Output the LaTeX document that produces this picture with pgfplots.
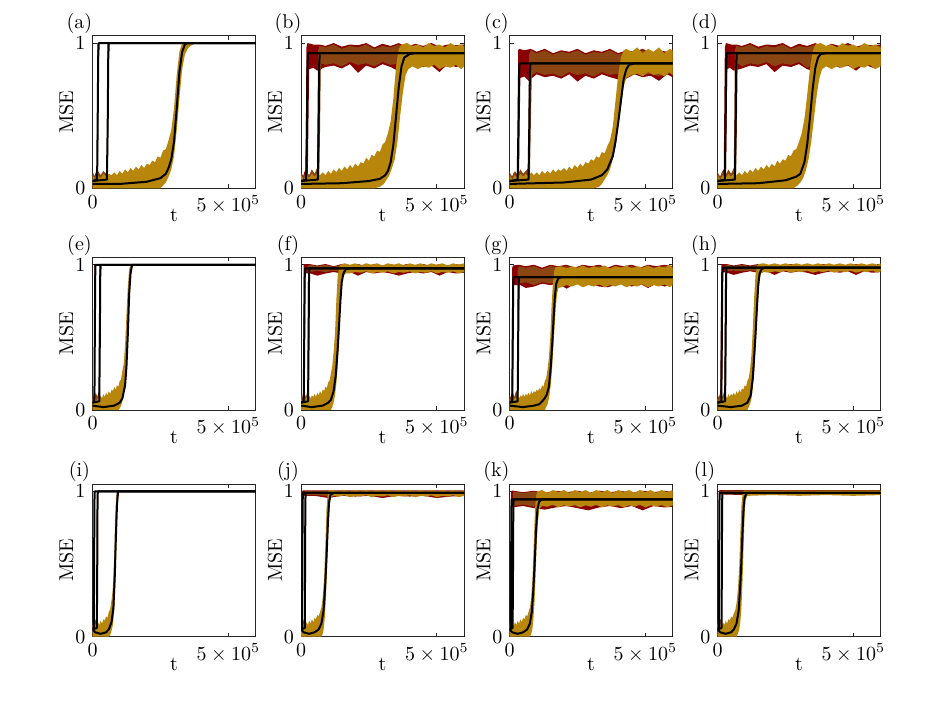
\documentclass[border=0pt]{standalone}
\usepackage{pgfplots}
\pgfplotsset{compat=1.18}
\definecolor{cred}{RGB}{139,0,0}
\definecolor{cbrown}{RGB}{139,69,19}
\definecolor{cgold}{RGB}{184,134,11}
% t in units of 1e4, MSE in percent
\pgfplotsset{
  panel/.style={
    anchor=south west, width=81.5pt, height=76.25pt, scale only axis,
    xmin=0, xmax=60, ymin=0, ymax=105,
    xtick={0,50}, xticklabels={$0$,$5\times10^{5}$},
    ytick={0,100}, yticklabels={$0$,$1$},
    tick align=inside, major tick length=2pt,
    axis line style={black!85, line width=0.4pt},
    every tick/.style={black!85, line width=0.4pt},
    xlabel={t}, ylabel={MSE},
    xlabel style={at={(axis description cs:0.5,-0.18)}, anchor=center},
    ylabel style={at={(axis description cs:-0.16,0.5)}, anchor=center},
    title style={at={(axis description cs:-0.08,1.08)}, anchor=center, yshift=-6pt},
  },
  rb/.style={fill=cred, draw=none},
  bb/.style={fill=cbrown, draw=none},
  gb/.style={fill=cgold, draw=none},
  mn/.style={black, line width=1pt, line join=round},
}
\begin{document}
\begin{tikzpicture}
\path[use as bounding box] (0,0) rectangle (463pt,353.5pt);

% ---------- (a)
\begin{axis}[panel, at={(46.25pt,259.35pt)}, title={(a)}]
\addplot[rb] coordinates {(0,9)(0.6,7)(1.2,11)(1.6,12)(1.8,100)(60,100)(2.3,100)(2.1,40)(1.9,0)(0,0)};
\addplot[bb] coordinates {(0,11)(1,8)(2,12)(3,9)(4,12)(5,10)(5.3,13)(5.5,100)(60,100)(6.0,100)(5.8,40)(5.6,0)(0,0)};
\addplot[gb] coordinates {(0,9)(1,6)(2,9)(3,7)(4,10)(5,8)(6,10)(7,9)(8,11)(9,9)(10,12)(11,10)(12,13)(13,11)(14,14)(15,12)(16,15)(17,13)(18,16)(19,14)(20,17)(21,16)(22,19)(23,18)(24,22)(25,21)(26,26)(27,27)(28,33)(29,40)(30,55)(31,78)(32,94)(33,100)(60,100)
 (60,100)(38,100)(36,98)(35,96)(34,92)(33,82)(32,62)(31,40)(30,22)(29,13)(28,8)(27,4)(26,2)(25,0)(0,0)};
\addplot[mn] coordinates {(0,5)(1.7,6)(1.9,45)(2.1,90)(2.3,100)(60,100)};
\addplot[mn] coordinates {(0,5)(5.3,6)(5.6,45)(5.8,90)(6.0,100)(60,100)};
\addplot[mn] coordinates {(0,3)(10,3)(20,4.5)(25,7)(27,10)(28,14)(29,20)(30,32)(31,55)(32,80)(33,94)(34,99)(35,100)(60,100)};
\end{axis}

% ---------- (b)
\begin{axis}[panel, at={(150.5pt,259.35pt)}, title={(b)}]
\addplot[rb] coordinates {(0,9)(0.6,7)(1.2,11)(1.7,13)(2.0,97)(2.4,100)(4.5,99)(6.8,99)(9,98)(12,100)(15,97.5)(18,99)(21,98.5)(24,100)(27,97)(30,99.5)(33,98)(36,100)(39,97)(42,99.5)(45,98)(48,100)(51,97.5)(54,99)(57,98.5)(60,99)
 (60,84.5)(57,83.5)(54,85.5)(51,80)(48,84.5)(45,83.5)(42,85.5)(39,82.5)(36,80.5)(33,83.5)(30,85.5)(27,82.5)(24,84.5)(21,79.5)(18,85.5)(15,82.5)(12,84.5)(9,83.5)(6,81)(4.5,83)(3.0,82)(2.7,40)(2.5,5)(0,0)};
\addplot[bb] coordinates {(0,11)(1,8)(2,12)(3,9)(4,13)(5,10)(5.9,14)(6.3,95)(6.8,98)(9,97)(12,99)(15,96)(18,98)(21,97)(24,99)(27,96)(30,98)(33,97)(36,99)(39,96)(42,98)(45,97)(48,99)(51,96)(54,98)(57,97)(60,98)
 (60,86)(57,85)(54,87)(51,84)(48,86)(45,85)(42,87)(39,84)(36,86)(33,85)(30,87)(27,84)(24,86)(21,85)(18,87)(15,84)(12,86)(9,85)(7.3,86)(7.0,40)(6.7,5)(0,0)};
\addplot[gb] coordinates {(0,9)(1,6)(2,9)(3,7)(4,10)(5,8)(6,10)(7,9)(8,11)(9,9)(10,12)(11,10)(12,13)(13,11)(14,14)(15,12)(16,15)(17,13)(18,16)(19,14)(20,17)(21,15)(22,18)(23,17)(24,21)(25,19)(26,23)(27,22)(28,26)(29,25)(30,30)(31,32)(32,38)(33,46)(34,62)(35,84)(36,96)(37,99)(39,100)(41,98)(43,99)(45,97)(47,100)(49,98)(51,99)(53,97)(55,100)(57,98)(59,99)(60,98)
 (60,84)(59,82)(57,85)(55,83)(53,84)(51,82)(49,85)(47,83)(45,84)(43,82)(41,84)(39.5,82)(38.5,78)(37.5,66)(36.5,50)(35.5,32)(34.5,20)(33.5,14)(32.5,9)(31.5,6)(30.5,3)(29,1)(27,0)(0,0)};
\addplot[mn] coordinates {(0,5)(1.9,6)(2.2,45)(2.4,85)(2.6,93)(60,93)};
\addplot[mn] coordinates {(0,5)(6.2,6)(6.5,45)(6.7,85)(6.9,93)(60,93)};
\addplot[mn] coordinates {(0,3)(15,3.5)(25,5)(29,6.5)(31,9)(32,12)(33,18)(34,30)(35,50)(36,70)(37,84)(38,90)(40,92.5)(42,93)(60,93)};
\end{axis}

% ---------- (c)
\begin{axis}[panel, at={(254.75pt,259.35pt)}, title={(c)}]
\addplot[rb] coordinates {(0,9)(0.8,7)(1.6,11)(2.4,8)(3.0,13)(3.2,95)(3.6,96)(5.5,95)(7.8,96)(10,94)(13,96)(16,93)(19,95)(22,94)(25,96)(28,93)(31,95)(34,94)(37,96)(40,93)(43,95)(46,94)(49,96)(52,93)(55,95)(58,94)(60,95)
 (60,76.5)(58,78.5)(55,74)(52,77.5)(49,76.5)(46,78.5)(43,75.5)(40,75)(37,76.5)(34,78.5)(31,75.5)(28,77.5)(25,73.5)(22,78.5)(19,75.5)(16,77.5)(13,76.5)(10,78.5)(7,74)(5.5,77)(4.0,76)(3.7,40)(3.5,5)(0,0)};
\addplot[bb] coordinates {(0,11)(1,8)(2,12)(3,9)(4,13)(5,10)(6,12)(6.9,14)(7.2,92)(7.8,95)(10,93)(13,95)(16,92)(19,94)(22,93)(25,95)(28,92)(31,94)(34,93)(37,95)(40,92)(43,94)(46,93)(49,95)(52,92)(55,94)(58,93)(60,94)
 (60,78)(58,80)(55,77)(52,79)(49,78)(46,80)(43,77)(40,79)(37,78)(34,80)(31,77)(28,79)(25,78)(22,80)(19,77)(16,79)(13,78)(10,80)(8.2,78)(7.8,40)(7.5,5)(0,0)};
\addplot[gb] coordinates {(0,9)(1,6)(2,9)(3,7)(4,10)(5,8)(6,10)(7,8)(8,11)(9,9)(10,11)(11,9)(12,12)(13,10)(14,12)(15,10)(16,13)(17,11)(18,13)(19,12)(20,14)(21,12)(22,15)(23,13)(24,16)(25,14)(26,17)(27,15)(28,18)(29,17)(30,20)(31,19)(32,22)(33,21)(34,25)(35,24)(36,29)(37,33)(38,42)(39,60)(40,78)(41,90)(42,95)(43,96)(45,94)(47,97)(49,93)(51,96)(53,94)(55,97)(57,93)(59,96)(60,95)
 (60,78)(59,80)(57,77)(55,79)(53,78)(51,80)(49,77)(47,79)(45,78)(44,77)(43,76)(42,70)(41,56)(40,42)(39,28)(38,20)(37,13)(36,9)(35,6)(34,3)(33,1)(31,0)(0,0)};
\addplot[mn] coordinates {(0,5)(3.0,6)(3.3,45)(3.5,80)(3.7,86)(60,86)};
\addplot[mn] coordinates {(0,5)(7.0,6)(7.3,45)(7.5,80)(7.7,86)(60,86)};
\addplot[mn] coordinates {(0,3)(20,4)(30,6)(34,9)(36,13)(38,22)(39,32)(40,45)(41,60)(42,75)(43,82)(44,85)(46,86)(60,86)};
\end{axis}

% ---------- (d)
\begin{axis}[panel, at={(358.75pt,259.35pt)}, title={(d)}]
\addplot[rb] coordinates {(0,9)(0.8,7)(1.6,11)(2.3,13)(2.7,97)(3.1,100)(5,99)(6.9,99)(9,98)(12,100)(15,97.5)(18,99)(21,98.5)(24,100)(27,97)(30,99.5)(33,98)(36,100)(39,97)(42,99.5)(45,98)(48,100)(51,97.5)(54,99)(57,98.5)(60,99)
 (60,84.5)(57,83)(54,85.5)(51,81)(48,84.5)(45,83)(42,85.5)(39,83.5)(36,80.5)(33,82)(30,85.5)(27,83.5)(24,84.5)(21,80)(18,85.5)(15,83.5)(12,84.5)(9,82.5)(6,81)(4.5,83)(3.6,82)(3.3,40)(3.1,5)(0,0)};
\addplot[bb] coordinates {(0,11)(1,8)(2,12)(3,9)(4,13)(5,10)(6.0,14)(6.4,95)(6.9,98)(9,97)(12,99)(15,96)(18,98)(21,97)(24,99)(27,96)(30,98)(33,97)(36,99)(39,96)(42,98)(45,97)(48,99)(51,96)(54,98)(57,97)(60,98)
 (60,86)(57,84)(54,87)(51,85)(48,86)(45,84)(42,87)(39,85)(36,86)(33,83)(30,87)(27,85)(24,86)(21,84)(18,87)(15,85)(12,86)(9,84)(7.4,86)(7.1,40)(6.8,5)(0,0)};
\addplot[gb] coordinates {(0,9)(1,6)(2,9)(3,7)(4,10)(5,8)(6,10)(7,9)(8,11)(9,9)(10,12)(11,10)(12,13)(13,11)(14,14)(15,12)(16,15)(17,13)(18,16)(19,14)(20,17)(21,15)(22,19)(23,17)(24,20)(25,19)(26,23)(27,22)(28,26)(29,27)(30,32)(31,38)(32,48)(33,64)(34,82)(35,94)(36,99)(38,100)(40,98)(42,99)(44,97)(46,100)(48,98)(50,99)(52,97)(54,100)(56,98)(58,99)(60,97)
 (60,84)(58,82)(56,85)(54,83)(52,84)(50,82)(48,85)(46,83)(44,84)(42,82)(40,84)(38.5,82)(37.5,76)(36.5,64)(35.5,48)(34.5,32)(33.5,20)(32.5,12)(31.5,7)(30.5,4)(29.5,2)(28,0)(0,0)};
\addplot[mn] coordinates {(0,5)(2.7,6)(3.0,45)(3.2,85)(3.4,93)(60,93)};
\addplot[mn] coordinates {(0,5)(6.4,6)(6.7,45)(6.9,85)(7.1,93)(60,93)};
\addplot[mn] coordinates {(0,3)(15,3.5)(25,5.5)(29,8)(30.5,10)(32,18)(33,30)(34,48)(35,68)(36,83)(37,90)(38,92.5)(40,93)(60,93)};
\end{axis}

% ---------- (e)
\begin{axis}[panel, at={(46.25pt,148.5pt)}, title={(e)}]
\addplot[rb] coordinates {(0,10)(0.3,8)(0.6,12)(0.7,100)(60,100)(1.1,100)(0.95,40)(0.8,0)(0,0)};
\addplot[bb] coordinates {(0,11)(0.6,8)(1.2,12)(1.8,9)(2.3,13)(2.5,100)(60,100)(3.0,100)(2.8,40)(2.6,0)(0,0)};
\addplot[gb] coordinates {(0,8)(0.5,5)(1,8)(1.5,6)(2,9)(2.5,7)(3,10)(3.5,8)(4,11)(4.5,9)(5,12)(5.5,10)(6,13)(6.5,11)(7,14)(7.5,13)(8,16)(8.5,14)(9,17)(9.5,16)(10,20)(10.5,21)(11,27)(11.5,32)(12,45)(12.5,65)(13,85)(13.5,97)(14,100)(60,100)
 (60,100)(15.5,100)(14.5,98)(14,92)(13.5,78)(13,55)(12.5,35)(12,20)(11.5,11)(11,6)(10.5,3)(10,1)(9.5,0)(0,0)};
\addplot[mn] coordinates {(0,5)(0.7,6)(0.85,50)(1.0,92)(1.1,100)(60,100)};
\addplot[mn] coordinates {(0,5)(2.5,6)(2.7,50)(2.85,92)(3.0,100)(60,100)};
\addplot[mn] coordinates {(0,3)(4,2)(8,3)(10,5)(11,8)(12,17)(12.5,30)(13,52)(13.5,80)(14,94)(14.6,100)(60,100)};
\end{axis}

% ---------- (f)
\begin{axis}[panel, at={(150.5pt,148.5pt)}, title={(f)}]
\addplot[rb] coordinates {(0,10)(0.4,8)(0.8,12)(1.0,100)(1.3,100.5)(3,100.5)(6,99.5)(9,100.5)(12,99)(15,100.5)(18,99.5)(21,100.5)(24,99)(27,100.5)(30,99.5)(33,100.5)(36,99)(39,100.5)(42,99.5)(45,100.5)(48,99)(51,100.5)(54,99.5)(57,100.5)(60,99.5)
 (60,94.5)(57,94)(54,95)(51,92.5)(48,95)(45,94)(42,95)(39,94)(36,92.5)(33,94)(30,95)(27,94)(24,95)(21,92.5)(18,95)(15,94)(12,95)(9,94)(6,92.5)(3.5,94)(1.6,94)(1.4,40)(1.2,0)(0,0)};
\addplot[bb] coordinates {(0,11)(0.6,8)(1.2,12)(1.8,9)(2.4,13)(2.6,99)(3,100)(6,99)(9,100)(12,98.5)(15,100)(18,99)(21,100)(24,98.5)(27,100)(30,99)(33,100)(36,98.5)(39,100)(42,99)(45,100)(48,98.5)(51,100)(54,99)(57,100)(60,99)
 (60,95.5)(57,95)(54,96)(51,95)(48,96)(45,95)(42,96)(39,95)(36,96)(33,95)(30,96)(27,95)(24,96)(21,95)(18,96)(15,95)(12,96)(9,95)(6,96)(3.2,95)(3.0,40)(2.8,0)(0,0)};
\addplot[gb] coordinates {(0,8)(0.5,5)(1,8)(1.5,6)(2,9)(2.5,7)(3,10)(3.5,8)(4,10)(4.5,9)(5,11)(5.5,9)(6,12)(6.5,10)(7,13)(7.5,11)(8,14)(8.5,13)(9,16)(9.5,15)(10,19)(10.5,20)(11,25)(11.5,30)(12,40)(12.5,52)(13,75)(13.5,92)(14,98)(14.5,100)(16,101)(18,100)(20,101)(22,99.5)(24,101)(26,100)(28,101)(30,99.5)(32,101)(34,100)(36,101)(38,99.5)(40,101)(42,100)(44,101)(46,99.5)(48,101)(50,100)(52,101)(54,99.5)(56,101)(58,100)(60,101)
 (60,95)(58,94)(56,95.5)(54,94.5)(52,95)(50,94)(48,95.5)(46,94.5)(44,95)(42,94)(40,95.5)(38,94.5)(36,95)(34,94)(32,95.5)(30,94.5)(28,95)(26,94)(24,95.5)(22,94.5)(20,95)(18,94)(16.5,94)(15.5,92)(15,86)(14.5,70)(14,48)(13.5,30)(13,18)(12.5,10)(12,5)(11.5,2)(11,0)(0,0)};
\addplot[mn] coordinates {(0,5)(1.0,6)(1.2,50)(1.35,90)(1.5,97.5)(60,97.5)};
\addplot[mn] coordinates {(0,5)(2.6,6)(2.8,50)(2.95,90)(3.1,97.5)(60,97.5)};
\addplot[mn] coordinates {(0,3)(4,2)(8,3)(10,5)(11,7)(12,13)(12.8,24)(13.5,42)(14,58)(14.5,75)(15,88)(15.6,94)(16.5,97)(18,97.5)(60,97.5)};
\end{axis}

% ---------- (g)
\begin{axis}[panel, at={(254.75pt,148.5pt)}, title={(g)}]
\addplot[rb] coordinates {(0,10)(0.4,8)(0.8,12)(1.0,98)(1.3,99.5)(3.4,100)(6,99)(9,100)(12,98)(15,100)(18,99)(21,100)(24,98)(27,100)(30,99)(33,100)(36,98)(39,100)(42,99)(45,100)(48,98)(51,100)(54,99)(57,100)(60,99)
 (60,86.5)(57,85)(54,87)(51,84)(48,87)(45,85)(42,87)(39,86)(36,84.5)(33,85)(30,87)(27,86)(24,87)(21,83.5)(18,87)(15,86)(12,87)(9,85)(6,84)(4,86)(1.6,86)(1.4,40)(1.2,0)(0,0)};
\addplot[bb] coordinates {(0,11)(0.6,8)(1.2,12)(1.8,9)(2.4,13)(2.9,12)(3.0,96)(3.4,99)(6,98)(9,99)(12,97)(15,99)(18,98)(21,99)(24,97)(27,99)(30,98)(33,99)(36,97)(39,99)(42,98)(45,99)(48,97)(51,99)(54,98)(57,99)(60,98)
 (60,87.5)(57,86)(54,88)(51,87)(48,88)(45,86)(42,88)(39,87)(36,88)(33,86)(30,88)(27,87)(24,88)(21,86)(18,88)(15,87)(12,88)(9,86)(6,88)(3.7,87)(3.4,40)(3.2,0)(0,0)};
\addplot[gb] coordinates {(0,8)(0.5,5)(1,8)(1.5,6)(2,9)(2.5,7)(3,10)(3.5,8)(4,10)(4.5,9)(5,11)(5.5,9)(6,11)(6.5,10)(7,12)(7.5,10)(8,13)(8.5,11)(9,13)(9.5,12)(10,14)(10.5,13)(11,15)(11.5,14)(12,17)(12.5,16)(13,20)(13.5,22)(14,28)(14.5,36)(15,50)(15.5,72)(16,88)(16.5,96)(17,98.5)(19,99)(21,97.5)(23,99)(25,98)(27,99.5)(29,97.5)(31,99)(33,98)(35,99.5)(37,97.5)(39,99)(41,98)(43,99.5)(45,97.5)(47,99)(49,98)(51,99.5)(53,97.5)(55,99)(57,98)(59,100)(60,98)
 (60,86)(59,84.5)(57,86.5)(55,85)(53,86)(51,84.5)(49,86.5)(47,85)(45,86)(43,84.5)(41,86.5)(39,85)(37,86)(35,84.5)(33,86.5)(31,85)(29,86)(27,84.5)(25,86.5)(23,85)(21,86)(19,84.5)(18,84)(17.5,80)(17,70)(16.5,54)(16,38)(15.5,24)(15,14)(14.5,8)(14,4)(13.5,2)(13,0)(0,0)};
\addplot[mn] coordinates {(0,5)(1.0,6)(1.2,50)(1.35,86)(1.5,91.5)(60,91.5)};
\addplot[mn] coordinates {(0,5)(3.0,6)(3.2,50)(3.35,86)(3.5,91.5)(60,91.5)};
\addplot[mn] coordinates {(0,3)(5,2)(9,3)(11,4)(12.5,7)(13.6,10)(14.5,16)(15.2,30)(15.7,45)(16.2,62)(16.7,78)(17.2,87)(17.9,90.5)(19,91.5)(60,91.5)};
\end{axis}

% ---------- (h)
\begin{axis}[panel, at={(358.75pt,148.5pt)}, title={(h)}]
\addplot[rb] coordinates {(0,10)(0.5,8)(1.0,12)(1.4,100)(1.7,100.5)(3.2,100.5)(6,99.5)(9,100.5)(12,99.5)(15,100.5)(18,99.5)(21,100.5)(24,99.5)(27,100.5)(30,99.5)(33,100.5)(36,99.5)(39,100.5)(42,99.5)(45,100.5)(48,99.5)(51,100.5)(54,99.5)(57,100.5)(60,99.5)
 (60,95)(57,94.5)(54,95.5)(51,93)(48,95.5)(45,94.5)(42,95.5)(39,94.5)(36,93)(33,94.5)(30,95.5)(27,94.5)(24,95.5)(21,93)(18,95.5)(15,94.5)(12,95.5)(9,94.5)(6,93)(3.5,94.5)(2.0,95)(1.8,40)(1.6,0)(0,0)};
\addplot[bb] coordinates {(0,11)(0.6,8)(1.2,12)(1.8,9)(2.5,13)(2.8,99)(3.2,100)(6,99)(9,100)(12,99)(15,100)(18,99)(21,100)(24,99)(27,100)(30,99)(33,100)(36,99)(39,100)(42,99)(45,100)(48,99)(51,100)(54,99)(57,100)(60,99)
 (60,96)(57,95.5)(54,96)(51,95.5)(48,96)(45,95.5)(42,96)(39,95.5)(36,96)(33,95.5)(30,96)(27,95.5)(24,96)(21,95.5)(18,96)(15,95.5)(12,96)(9,95.5)(6,96)(3.5,95.5)(3.2,40)(3.0,0)(0,0)};
\addplot[gb] coordinates {(0,8)(0.5,5)(1,8)(1.5,6)(2,9)(2.5,7)(3,10)(3.5,8)(4,11)(4.5,9)(5,11)(5.5,10)(6,12)(6.5,10)(7,13)(7.5,11)(8,14)(8.5,12)(9,15)(9.5,14)(10,17)(10.5,16)(11,20)(11.5,22)(12,28)(12.5,38)(13,56)(13.5,78)(14,93)(14.5,99)(15,100.5)(17,101)(19,100)(21,101)(23,100)(25,101)(27,100)(29,101)(31,100)(33,101)(35,100)(37,101)(39,100)(41,101)(43,100)(45,101)(47,100)(49,101)(51,100)(53,101)(55,100)(57,101)(59,100)(60,101)
 (60,95.5)(59,94.5)(57,96)(55,95)(53,95.5)(51,94.5)(49,96)(47,95)(45,95.5)(43,94.5)(41,96)(39,95)(37,95.5)(35,94.5)(33,96)(31,95)(29,95.5)(27,94.5)(25,96)(23,95)(21,95.5)(19,94.5)(17,95)(16,94)(15.5,90)(15,80)(14.5,62)(14,42)(13.5,26)(13,15)(12.5,8)(12,4)(11.5,2)(11,0)(0,0)};
\addplot[mn] coordinates {(0,5)(1.4,6)(1.6,50)(1.75,90)(1.9,98)(60,98)};
\addplot[mn] coordinates {(0,5)(2.8,6)(3.0,50)(3.15,90)(3.3,98)(60,98)};
\addplot[mn] coordinates {(0,3)(5,2)(9,3)(11,5)(12.2,10)(13,22)(13.6,40)(14,52)(14.5,70)(15,86)(15.5,94)(16.2,97)(17.5,98)(60,98)};
\end{axis}

% ---------- (i)
\begin{axis}[panel, at={(46.25pt,35.15pt)}, title={(i)}]
\addplot[rb] coordinates {(0,10)(0.2,8)(0.4,12)(0.5,100)(60,100)(0.8,100)(0.7,40)(0.6,0)(0,0)};
\addplot[bb] coordinates {(0,11)(0.5,8)(1.0,12)(1.4,10)(1.6,100)(60,100)(2.0,100)(1.9,40)(1.8,0)(0,0)};
\addplot[gb] coordinates {(0,9)(0.5,6)(1,9)(1.5,7)(2,10)(2.5,8)(3,11)(3.5,9)(4,12)(4.5,11)(5,14)(5.5,13)(6,17)(6.5,19)(7,25)(7.5,34)(8,55)(8.3,80)(8.7,97)(9,100)(60,100)
 (60,100)(9.8,100)(9.3,96)(9,85)(8.7,60)(8.4,35)(8,18)(7.5,8)(7,4)(6.5,1)(6,0)(0,0)};
\addplot[mn] coordinates {(0,5)(0.5,6)(0.6,50)(0.7,92)(0.8,100)(60,100)};
\addplot[mn] coordinates {(0,5)(1.6,6)(1.75,50)(1.85,92)(1.95,100)(60,100)};
\addplot[mn] coordinates {(0,5)(1,3)(3,2)(5,3)(6,5)(7,10)(7.7,20)(8.2,42)(8.6,68)(9.0,90)(9.4,100)(60,100)};
\end{axis}

% ---------- (j)
\begin{axis}[panel, at={(150.5pt,35.15pt)}, title={(j)}]
\addplot[rb] coordinates {(0,10)(0.2,8)(0.35,12)(0.4,100)(0.7,100.8)(60,100.8)
 (60,97)(55,96.5)(50,95.5)(45,97)(40,96.5)(35,97)(30,95.5)(25,97)(20,96.5)(15,97)(10,95.5)(5,97)(0.8,97)(0.65,40)(0.5,0)(0,0)};
\addplot[bb] coordinates {(0,11)(0.5,8)(1.0,12)(1.3,12)(1.4,99)(1.7,100.5)(5,100)(9,100.5)(13,100)(17,100.5)(21,100)(25,100.5)(29,100)(33,100.5)(37,100)(41,100.5)(45,100)(49,100.5)(53,100)(57,100.5)(60,100)
 (60,97.5)(57,97)(53,97.5)(49,97)(45,97.5)(41,97)(37,97.5)(33,97)(29,97.5)(25,97)(21,97.5)(17,97)(13,97.5)(9,97)(5,97.5)(1.8,97.5)(1.65,40)(1.5,0)(0,0)};
\addplot[gb] coordinates {(0,9)(0.5,6)(1,9)(1.5,7)(2,10)(2.5,8)(3,11)(3.5,9)(4,12)(4.5,10)(5,13)(5.5,12)(6,15)(6.5,14)(7,17)(7.5,20)(8,27)(8.5,40)(9,65)(9.4,88)(9.8,98)(10.2,100.5)(12,101)(14,100)(16,101)(18,100)(20,101)(22,100)(24,101)(26,100)(28,101)(30,100)(32,101)(34,100)(36,101)(38,100)(40,101)(42,100)(44,101)(46,100)(48,101)(50,100)(52,101)(54,100)(56,101)(58,100)(60,101)
 (60,97)(58,96)(56,97.5)(54,96.5)(52,97)(50,96)(48,97.5)(46,96.5)(44,97)(42,96)(40,97.5)(38,96.5)(36,97)(34,96)(32,97.5)(30,96.5)(28,97)(26,96)(24,97.5)(22,96.5)(20,97)(18,96)(16,97.5)(14,96.5)(12,97)(11,96)(10.5,90)(10,72)(9.6,48)(9.2,28)(8.8,14)(8.4,6)(8,2)(7.5,0)(0,0)};
\addplot[mn] coordinates {(0,5)(0.4,6)(0.5,50)(0.6,92)(0.7,99)(60,99)};
\addplot[mn] coordinates {(0,5)(1.4,6)(1.5,50)(1.6,92)(1.7,99)(60,99)};
\addplot[mn] coordinates {(0,5)(1,3)(3,2)(5,3)(6.5,5)(7.5,9)(8.3,18)(8.9,35)(9.4,55)(9.9,78)(10.3,92)(10.8,97.5)(12,99)(60,99)};
\end{axis}

% ---------- (k)
\begin{axis}[panel, at={(254.75pt,35.15pt)}, title={(k)}]
\addplot[rb] coordinates {(0,10)(0.2,8)(0.4,12)(0.5,99)(0.8,100.5)(1.5,100.5)(5,99.5)(9,100.5)(13,99)(17,100.5)(21,99.5)(25,100.5)(29,99)(33,100.5)(37,99.5)(41,100.5)(45,99)(49,100.5)(53,99.5)(57,100.5)(60,99.5)
 (60,89.5)(57,89)(53,90)(49,87)(45,90)(41,88.5)(37,90)(33,89)(29,87)(25,88.5)(21,90)(17,89)(13,87.5)(9,88.5)(5,90)(0.9,89)(0.75,40)(0.6,0)(0,0)};
\addplot[bb] coordinates {(0,11)(0.4,8)(0.8,12)(1.1,12)(1.2,98)(1.5,100)(5,99)(9,100)(13,98.5)(17,100)(21,99)(25,100)(29,98.5)(33,100)(37,99)(41,100)(45,98.5)(49,100)(53,99)(57,100)(60,99)
 (60,90.5)(57,89.5)(53,91)(49,90)(45,91)(41,89.5)(37,91)(33,90)(29,91)(25,89.5)(21,91)(17,90)(13,91)(9,89.5)(5,91)(1.6,90)(1.45,40)(1.3,0)(0,0)};
\addplot[gb] coordinates {(0,9)(0.5,6)(1,9)(1.5,7)(2,10)(2.5,8)(3,11)(3.5,9)(4,12)(4.5,10)(5,13)(5.5,12)(6,15)(6.5,14)(7,17)(7.5,20)(8,27)(8.5,42)(9,68)(9.4,88)(9.8,97)(10.2,100)(12,101)(14,99)(16,101)(18,99.5)(20,101)(22,99)(24,101)(26,99.5)(28,101)(30,99)(32,101)(34,99.5)(36,101)(38,99)(40,101)(42,99.5)(44,101)(46,99)(48,101)(50,99.5)(52,101)(54,99)(56,101)(58,99.5)(60,101)
 (60,90.5)(58,89)(56,91)(54,89.5)(52,90.5)(50,89)(48,91)(46,89.5)(44,90.5)(42,89)(40,91)(38,89.5)(36,90.5)(34,89)(32,91)(30,89.5)(28,90.5)(26,89)(24,91)(22,89.5)(20,90.5)(18,89)(16,91)(14,89.5)(12,90)(11,88)(10.5,80)(10,64)(9.6,42)(9.2,24)(8.8,12)(8.4,5)(8,2)(7.5,0)(0,0)};
\addplot[mn] coordinates {(0,5)(0.5,6)(0.6,50)(0.7,88)(0.8,94.5)(60,94.5)};
\addplot[mn] coordinates {(0,5)(1.15,6)(1.3,50)(1.4,88)(1.5,94.5)(60,94.5)};
\addplot[mn] coordinates {(0,5)(1,3)(3,2)(5,3)(6.5,5)(7.5,9)(8.2,17)(8.8,33)(9.3,52)(9.8,74)(10.3,88)(10.9,93)(12,94.5)(60,94.5)};
\end{axis}

% ---------- (l)
\begin{axis}[panel, at={(358.75pt,35.15pt)}, title={(l)}]
\addplot[rb] coordinates {(0,10)(0.2,8)(0.4,12)(0.5,100)(0.8,101)(60,101)(60,98)(50,97.5)(40,98)(30,97.5)(20,98)(10,97.5)(0.9,98)(0.75,40)(0.6,0)(0,0)};
\addplot[bb] coordinates {(0,11)(0.5,8)(1.0,12)(1.4,12)(1.5,99)(1.8,100.5)(60,100.5)(60,98)(1.9,98)(1.75,40)(1.6,0)(0,0)};
\addplot[gb] coordinates {(0,9)(0.5,6)(1,9)(1.5,7)(2,10)(2.5,8)(3,11)(3.5,9)(4,12)(4.5,11)(5,14)(5.5,13)(6,16)(6.5,18)(7,23)(7.5,32)(8,48)(8.4,70)(8.8,90)(9.2,98)(9.6,100.5)(60,100.5)
 (60,97.5)(50,97)(40,97.5)(30,97)(20,97.5)(11,97)(10.3,94)(10,85)(9.6,62)(9.2,38)(8.8,20)(8.4,10)(8,5)(7.5,2)(7,0)(0,0)};
\addplot[mn] coordinates {(0,5)(0.5,6)(0.6,50)(0.7,92)(0.8,99)(60,99)};
\addplot[mn] coordinates {(0,5)(1.5,6)(1.6,50)(1.7,92)(1.8,99)(60,99)};
\addplot[mn] coordinates {(0,5)(1,3)(3,2)(5,3)(6,5)(7,9)(7.8,18)(8.4,36)(8.8,52)(9.2,72)(9.6,88)(10,96)(10.8,99)(60,99)};
\end{axis}
\end{tikzpicture}
\end{document}
